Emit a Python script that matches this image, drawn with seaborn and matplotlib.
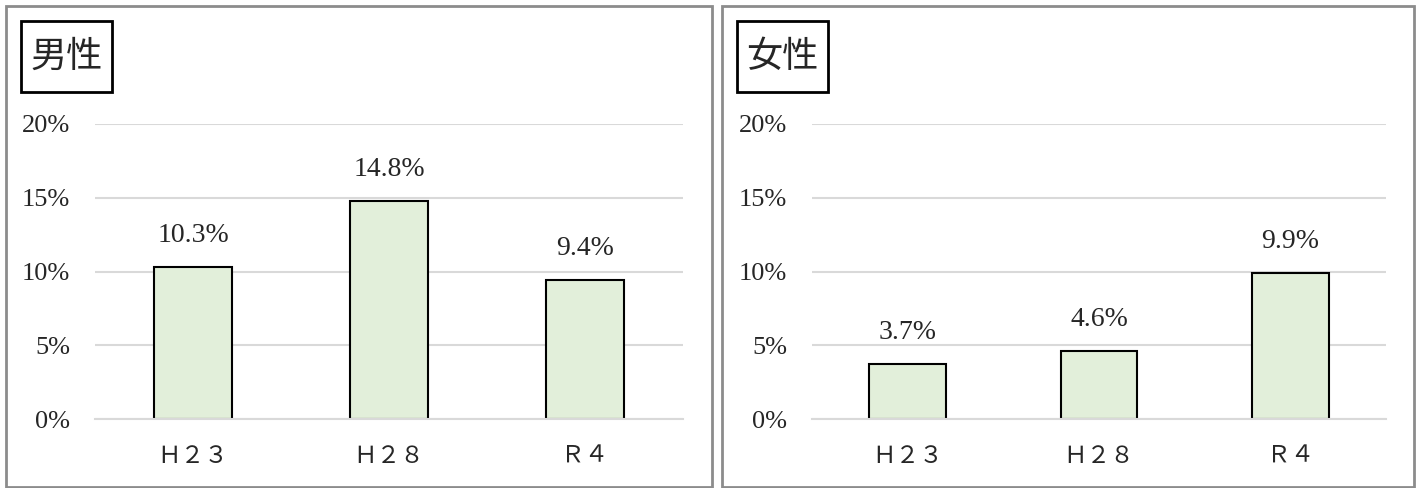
import pandas as pd
import matplotlib.pyplot as plt
import matplotlib.patches as patches
from matplotlib.ticker import FuncFormatter
import seaborn as sns

# data
years = ["Ｈ２３", "Ｈ２８", "Ｒ４"]
male = [10.3, 14.8, 9.4]
female = [3.7, 4.6, 9.9]

sns.set_style("white")
plt.rcParams['font.family'] = ['Liberation Serif', 'Noto Sans CJK JP']

fig = plt.figure(figsize=(14.2, 4.88), dpi=100)

W, H = 1420, 488

def px(x0, y0, x1, y1):
    # pixel box -> figure fraction [left, bottom, width, height]
    return [x0 / W, 1 - y1 / H, (x1 - x0) / W, (y1 - y0) / H]

panels = [
    ("男性", male, (6, 6, 712, 487), (95, 124, 683, 419), (21, 21, 112, 92)),
    ("女性", female, (722, 6, 1414, 487), (812, 124, 1386, 419), (737, 21, 828, 92)),
]

for title, vals, frame, axbox, tbox in panels:
    # outer panel frame
    l, b, w, h = px(*frame)
    fig.patches.append(patches.Rectangle((l, b), w, h, transform=fig.transFigure,
                                         fill=False, edgecolor="#8c8c8c", linewidth=2))
    # title box
    l, b, w, h = px(*tbox)
    fig.patches.append(patches.Rectangle((l, b), w, h, transform=fig.transFigure,
                                         fill=False, edgecolor="black", linewidth=2))
    fig.text(l + w / 2, b + h / 2, title, ha="center", va="center", fontsize=26,
             family=['Noto Sans CJK JP'])

    ax = fig.add_axes(px(*axbox))
    df = pd.DataFrame({"year": years, "pct": [v / 100 for v in vals]})
    sns.barplot(data=df, x="year", y="pct", ax=ax, color="#E2EFDA",
                edgecolor="black", linewidth=1.5, width=0.4, saturation=1)
    for i, v in enumerate(vals):
        ax.text(i, v / 100 + 0.013, f"{v:.1f}%", ha="center", va="bottom", fontsize=20)

    ax.set_ylim(0, 0.2)
    ax.set_yticks([0, 0.05, 0.1, 0.15, 0.2])
    ax.yaxis.set_major_formatter(FuncFormatter(lambda y, _: f"{y * 100:.0f}%"))
    ax.grid(axis="y", color="#d9d9d9", linewidth=1.5)
    ax.set_axisbelow(True)
    for s in ["top", "right", "left"]:
        ax.spines[s].set_visible(False)
    ax.spines["bottom"].set_color("#d9d9d9")
    ax.spines["bottom"].set_linewidth(1.5)
    ax.tick_params(axis="y", length=0, labelsize=19, pad=18)
    ax.tick_params(axis="x", length=0, labelsize=17, pad=20)
    ax.set_xlabel("")
    ax.set_ylabel("")

fig.savefig("out.png", dpi=100)
